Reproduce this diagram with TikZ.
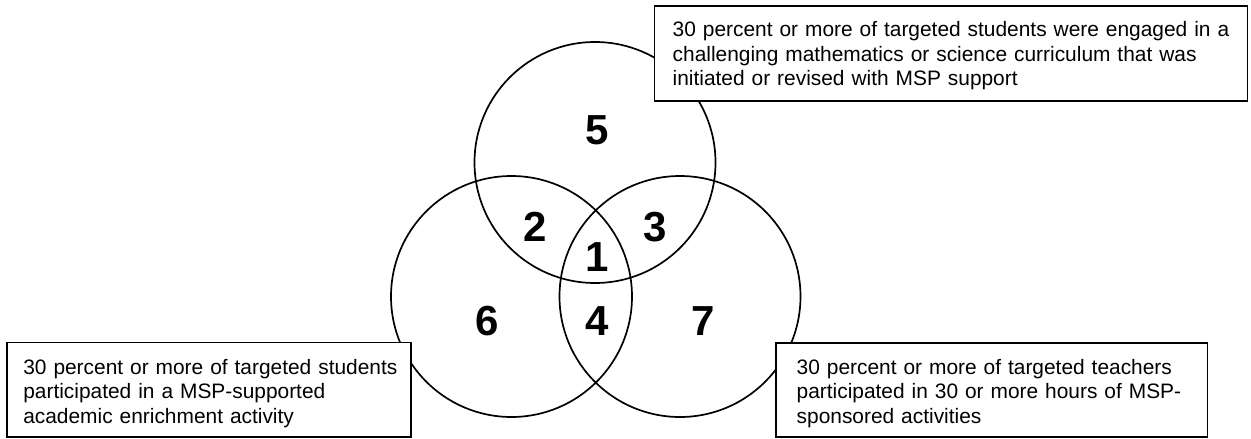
\documentclass[tikz,border=0pt]{standalone}
\usepackage{fontspec}
\setmainfont{Liberation Sans}
\begin{document}
\begin{tikzpicture}[x=1pt,y=-1pt,
  ring/.style={circle,draw,line width=1.7pt,minimum size=241pt,inner sep=0pt,outer sep=0pt},
  box/.style={draw,fill=white,line width=1.6pt,inner sep=0pt,outer sep=0pt,anchor=north west},
  txt/.style={anchor=base west,inner sep=0pt,outer sep=0pt,text width=580pt,align=left,
    font=\fontsize{20.9}{24.6}\selectfont},
  num/.style={inner sep=0pt,outer sep=0pt,font=\fontsize{42}{42}\selectfont\bfseries}]
\useasboundingbox (0,0) rectangle (1251,439);
% circles
\node[ring] (ctop) at (595,162.5) {};
\node[ring] (cleft) at (511.5,296.5) {};
\node[ring] (cright) at (680,296.5) {};
% region numbers
\node[num] (n5) at (596.7,130) {5};
\node[num] (n2) at (535,226.7) {2};
\node[num] (n3) at (655,226.7) {3};
\node[num] (n1) at (596.7,257) {1};
\node[num] (n6) at (487.3,321) {6};
\node[num] (n4) at (597.3,321) {4};
\node[num] (n7) at (703.3,321) {7};
% boxes
\node[box,minimum width=592.8pt,minimum height=95pt] (btop) at (654.5,6) {};
\node[box,minimum width=404pt,minimum height=94.4pt] (bleft) at (6.7,342.3) {};
\node[box,minimum width=431.3pt,minimum height=94pt] (bright) at (776,342.7) {};
% texts
\node[txt] (ttop) at (672.7,36.7) {30 percent or more of targeted students were engaged in a\\challenging mathematics or science curriculum that was\\initiated or revised with MSP support};
\node[txt] (tleft) at (23.3,374) {30 percent or more of targeted students\\participated in a MSP-supported\\academic enrichment activity};
\node[txt] (tright) at (796.7,374.3) {30 percent or more of targeted teachers\\participated in 30 or more hours of MSP-\\sponsored activities};
\end{tikzpicture}
\end{document}
